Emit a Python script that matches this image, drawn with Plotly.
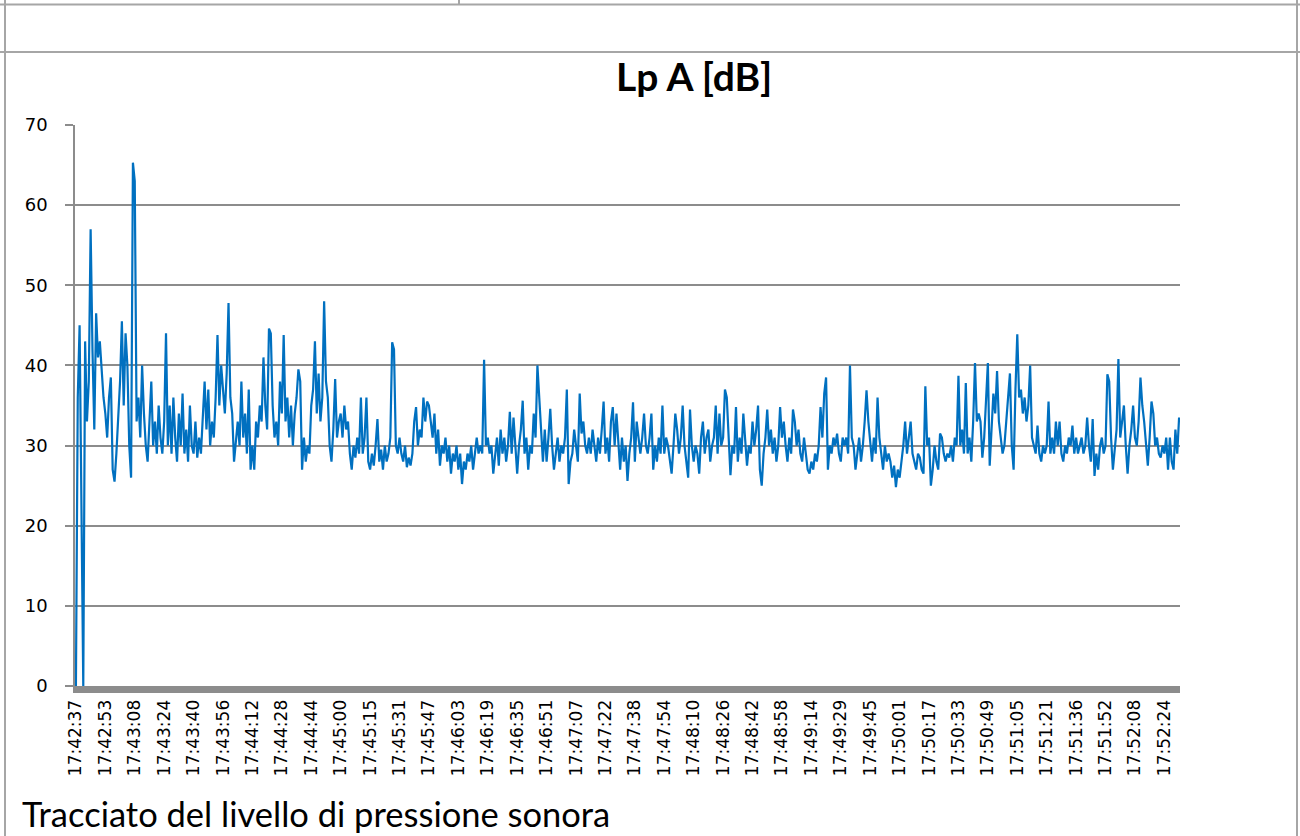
import plotly.graph_objects as go

# ---- data ----
lp_a_db = [
    0, 36, 45, 22, 0, 43, 33, 38, 57, 42, 32, 46.5, 41, 43, 39, 36,
    34, 31, 36, 38.5, 27, 25.5, 29, 34, 38, 45.5, 35, 44, 40, 30, 26, 65.3,
    63, 33, 36, 31, 40, 34, 30, 28, 33, 38, 30, 33, 29, 35, 31, 29,
    33, 44, 30, 35, 29, 36, 31, 28, 34, 30, 36.5, 29, 32, 28, 35, 30,
    29, 33, 28.5, 31, 29, 33, 38, 32, 37, 30, 33, 31, 36, 43.8, 35, 40,
    37, 34, 39, 47.8, 36, 34, 28, 31, 33, 30, 38, 31, 34, 29, 37, 27,
    30, 27, 33, 31, 35, 33, 41, 35, 32, 44.6, 44, 35, 31, 33, 30, 38,
    34, 43.8, 33, 36, 31, 35, 30, 34, 36, 39.5, 38, 27, 31, 28, 30, 29,
    35, 37, 43, 34, 39, 33, 36, 48, 38, 36, 30, 28, 32, 38.3, 31, 33,
    34, 31, 35, 32, 33, 29, 27, 30, 28.5, 31, 29, 36, 29, 31, 36, 28,
    27, 29, 27.5, 30, 33.3, 28, 29.5, 27, 30, 28, 29, 31, 42.9, 42, 30, 29,
    31, 29, 28, 30, 27.3, 28.5, 27.5, 29, 33, 34.8, 30, 32, 31, 36, 33, 35.5,
    35, 33, 31, 34, 29, 32, 27.5, 30, 29, 31, 28, 30, 26.5, 29, 28, 30,
    27, 29, 25.2, 28, 27, 29, 28, 30, 27, 29, 31, 29, 30, 29, 40.7, 30,
    31, 29, 30, 26.5, 29, 31, 27.5, 32, 29, 31, 28, 30, 34.2, 29, 33.5, 30,
    26.5, 30, 32, 35.6, 29, 31, 27, 30, 29, 34, 31, 40, 36, 33, 28, 32,
    28, 31, 34.6, 30, 27, 29, 31, 28, 30, 29, 31, 37, 25.2, 28, 29, 32,
    30, 28, 36.5, 31.5, 33, 30, 29, 31, 29, 32, 30, 28, 31, 29, 32, 35.5,
    29, 31, 28, 33, 34.8, 30, 34, 31, 27, 31, 28, 30, 25.6, 29, 31, 35.4,
    28, 33, 31, 29, 31, 34, 30, 29, 31, 34, 27, 30, 28, 31, 29, 35,
    29, 31, 30, 28, 26.5, 30, 34, 32, 29, 31, 35, 30, 28, 26, 34.5, 30,
    28, 30, 29, 26.5, 31, 33, 29, 31, 32, 28, 30, 31, 35, 29, 34, 30,
    31, 37, 36, 31, 26.3, 30, 29, 34.8, 28, 31, 29, 34, 31, 27.5, 30, 29,
    33, 30, 32, 35, 27, 25, 29, 31, 34.5, 30, 32, 29, 31, 28, 30, 34.8,
    31, 33, 30, 28, 31, 29, 34.5, 33, 30, 32, 29, 28, 31, 29, 27, 26.5,
    28, 27, 29, 28, 30, 34.8, 31, 36.5, 38.5, 27, 30, 29, 31, 30, 31.5, 29,
    28, 31, 30, 31, 29, 40, 31, 30, 27, 29, 31, 28, 30, 33, 36.9, 33,
    30, 28, 31, 29, 36, 31, 29, 27, 30, 28, 29, 28, 26, 27.5, 24.8, 27,
    26, 28, 30, 33, 29, 31, 33, 29, 28, 27, 29, 28.5, 27, 26.5, 37.4, 30,
    31, 25, 27, 30, 28, 27, 31.5, 31, 29, 28, 29, 28.5, 30, 28, 31, 30,
    38.7, 30, 32, 29, 37.8, 29, 31, 28, 33, 40.3, 33, 34, 33, 28.5, 31, 36,
    40.3, 27.5, 33, 36.5, 34, 39.3, 33, 31, 29, 30, 33, 35, 39, 30, 27, 37,
    43.9, 36, 37, 34, 36, 33, 35, 40, 31, 30, 29, 32.5, 29, 28, 30, 29,
    30, 35.5, 29, 31, 29, 33, 30, 33, 29, 28, 30, 29, 31, 30, 32.5, 29,
    31, 29, 30, 31, 29, 30, 33.5, 30, 28, 33.3, 26.2, 29, 27, 30, 31, 29,
    30, 38.9, 38, 31, 27, 30, 32, 40.8, 31, 33, 35, 30, 26.5, 30, 32, 35,
    31, 30, 33, 38.5, 35, 33, 30, 27.5, 31, 35.5, 34, 30, 31, 29, 28.5, 30,
    29, 31, 27, 31, 28, 27, 32, 29, 33.5,
]

tick_labels = [
    "17:42:37", "17:42:53", "17:43:08", "17:43:24", "17:43:40", "17:43:56",
    "17:44:12", "17:44:28", "17:44:44", "17:45:00", "17:45:15", "17:45:31",
    "17:45:47", "17:46:03", "17:46:19", "17:46:35", "17:46:51", "17:47:07",
    "17:47:22", "17:47:38", "17:47:54", "17:48:10", "17:48:26", "17:48:42",
    "17:48:58", "17:49:14", "17:49:29", "17:49:45", "17:50:01", "17:50:17",
    "17:50:33", "17:50:49", "17:51:05", "17:51:21", "17:51:36", "17:51:52",
    "17:52:08", "17:52:24",
]
samples_per_label = 16

title_text = "Lp A [dB]"
caption_text = "Tracciato del livello di pressione sonora"

# ---- layout geometry (pixels) ----
W, H = 1300, 836
PL, PR, PT, PB = 75, 1180, 125, 686  # plot area box


def px(xp):
    return (xp - PL) / (PR - PL)


def py(yp):
    return (PB - yp) / (PB - PT)


xs = list(range(len(lp_a_db)))
tickvals = [i * samples_per_label for i in range(len(tick_labels))]

fig = go.Figure()
fig.add_trace(go.Scatter(
    x=xs, y=lp_a_db, mode="lines",
    line=dict(color="#0070C0", width=2.2),
    showlegend=False, hoverinfo="skip",
))

border = dict(color="#a6a6a6", width=2)
shapes = [
    dict(type="line", xref="paper", yref="paper", x0=px(5), x1=px(5), y0=py(0), y1=py(H), line=border),
    dict(type="line", xref="paper", yref="paper", x0=px(1297), x1=px(1297), y0=py(0), y1=py(H), line=border),
    dict(type="line", xref="paper", yref="paper", x0=px(0), x1=px(W), y0=py(4.5), y1=py(4.5), line=border),
    dict(type="line", xref="paper", yref="paper", x0=px(0), x1=px(W), y0=py(52), y1=py(52), line=border),
    dict(type="line", xref="paper", yref="paper", x0=px(459), x1=px(459), y0=py(0), y1=py(4.5), line=border),
]

annotations = [
    dict(text="<b>" + title_text + "</b>", xref="paper", yref="paper",
         x=px(694), y=py(76), xanchor="center", yanchor="middle", showarrow=False,
         font=dict(family="Lato", size=39, color="#000000")),
    dict(text=caption_text, xref="paper", yref="paper",
         x=px(20), y=py(836), xanchor="left", yanchor="bottom", showarrow=False,
         font=dict(family="Lato", size=34.5, color="#000000")),
]

fig.update_layout(
    width=W, height=H,
    margin=dict(l=PL, r=W - PR, t=PT, b=H - PB, pad=0),
    paper_bgcolor="white", plot_bgcolor="white",
    shapes=shapes, annotations=annotations,
    xaxis=dict(
        range=[-0.5, len(lp_a_db) - 0.5],
        tickmode="array", tickvals=tickvals, ticktext=tick_labels,
        tickangle=-90, ticks="", showgrid=False, zeroline=False,
        showline=True, linecolor="#8c8c8c", linewidth=7,
        tickfont=dict(family="DejaVu Sans", size=17, color="#000000"),
        fixedrange=True,
    ),
    yaxis=dict(
        range=[0, 70], dtick=10, tick0=0,
        showgrid=True, gridcolor="#8c8c8c", gridwidth=1.5,
        zeroline=False, showline=True, linecolor="#8c8c8c", linewidth=1.5,
        ticks="outside", ticklen=8, tickcolor="#8c8c8c", tickwidth=1.5,
        tickfont=dict(family="DejaVu Sans", size=18, color="#000000"),
        ticklabelstandoff=14,
        fixedrange=True,
    ),
)

fig.write_html("out.html", config={"displayModeBar": False})
